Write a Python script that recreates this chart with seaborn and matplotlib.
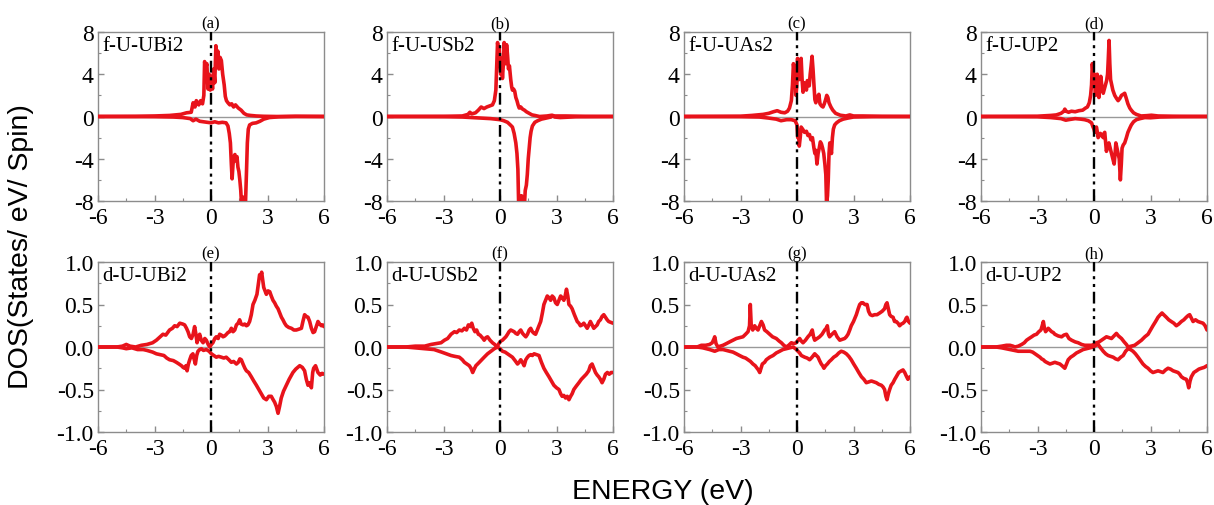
import matplotlib
matplotlib.use("Agg")
import matplotlib.pyplot as plt
import seaborn as sns
import pandas as pd
from matplotlib.ticker import MultipleLocator

# ---- f-states of U (spin up / spin down), (energy eV, DOS) ----
a_up = [(-6, 0), (-4, 0.02), (-3, 0.05), (-2.2, 0.1), (-1.6, 0.2), (-1.3, 0.35), (-1.05, 0.4), (-0.95, 1.3),
        (-0.85, 0.9), (-0.78, 1.5), (-0.65, 1.1), (-0.55, 1.5), (-0.45, 1.2), (-0.38, 2.0), (-0.34, 5.2),
        (-0.28, 4.6), (-0.22, 5.0), (-0.16, 2.6), (-0.1, 4.0), (-0.04, 2.5), (0.02, 3.8), (0.08, 2.6),
        (0.14, 4.5), (0.2, 3.2), (0.26, 6.7), (0.3, 4.8), (0.36, 6.2), (0.42, 4.5), (0.48, 5.6), (0.55, 5.3),
        (0.62, 4.0), (0.7, 3.0), (0.76, 1.9), (0.82, 1.5), (0.9, 1.3), (1.0, 1.1), (1.1, 1.2), (1.2, 0.9),
        (1.3, 1.1), (1.45, 0.8), (1.6, 0.6), (1.75, 0.3), (1.9, 0.15), (2.1, 0.1), (2.4, 0.05), (2.8, 0.02),
        (3.5, 0.0), (4.5, 0.02), (6, 0)]
a_dn = [(-6, 0), (-3, -0.02), (-2, -0.05), (-1.5, -0.1), (-1.1, -0.2), (-0.95, -0.4), (-0.8, -0.25),
        (-0.6, -0.45), (-0.4, -0.5), (-0.2, -0.55), (0.0, -0.6), (0.2, -0.5), (0.4, -0.6), (0.6, -0.55),
        (0.8, -0.6), (0.9, -0.9), (0.97, -1.6), (1.03, -2.5), (1.08, -4.5), (1.12, -5.9), (1.17, -4.5),
        (1.22, -3.8), (1.27, -3.6), (1.32, -4.2), (1.38, -3.8), (1.43, -4.8), (1.48, -5.2), (1.53, -6.0),
        (1.58, -7.0), (1.62, -8.3), (1.67, -7.6), (1.72, -8.3), (1.78, -7.8), (1.83, -8.3), (1.88, -5.5),
        (1.93, -2.5), (1.98, -1.2), (2.05, -0.8), (2.2, -0.65), (2.4, -0.6), (2.6, -0.45), (2.8, -0.25),
        (3.1, -0.1), (3.6, -0.03), (4.5, 0), (6, 0)]

b_up = [(-6, 0), (-3, 0.02), (-2, 0.05), (-1.7, 0.2), (-1.6, 0.4), (-1.5, 0.25), (-1.3, 0.35), (-1.15, 0.6),
        (-1.0, 0.9), (-0.85, 0.75), (-0.7, 0.9), (-0.55, 1.0), (-0.4, 1.1), (-0.3, 1.5), (-0.22, 2.5),
        (-0.17, 5.0), (-0.13, 7.0), (-0.08, 6.2), (-0.04, 6.6), (0.0, 5.0), (0.04, 4.0), (0.08, 5.5),
        (0.13, 3.6), (0.18, 5.0), (0.22, 7.0), (0.26, 6.2), (0.3, 5.0), (0.35, 6.8), (0.4, 5.8), (0.45, 4.5),
        (0.5, 4.8), (0.57, 3.5), (0.62, 2.8), (0.66, 2.5), (0.72, 2.6), (0.78, 2.4), (0.84, 1.8), (0.9, 1.5),
        (0.96, 1.1), (1.02, 0.8), (1.1, 0.9), (1.2, 0.7), (1.3, 0.6), (1.4, 0.45), (1.55, 0.3), (1.7, 0.15),
        (1.85, 0.1), (2.1, 0.0), (2.5, 0.05), (2.75, 0.12), (2.9, 0.05), (3.5, 0.05), (4.5, 0.02), (6, 0)]
b_dn = [(-6, 0), (-3, -0.02), (-2, -0.05), (-1.5, -0.1), (-1.0, -0.15), (-0.5, -0.2), (0.0, -0.3),
        (0.2, -0.4), (0.4, -0.55), (0.55, -0.8), (0.66, -1.0), (0.75, -1.6), (0.84, -2.5), (0.9, -3.5),
        (0.95, -5.0), (0.99, -8.3), (1.04, -7.6), (1.09, -8.3), (1.14, -7.5), (1.19, -8.3), (1.24, -7.8),
        (1.3, -8.3), (1.34, -7.0), (1.4, -6.5), (1.45, -5.5), (1.5, -4.0), (1.55, -3.0), (1.6, -2.0),
        (1.65, -1.4), (1.72, -0.9), (1.85, -0.55), (2.0, -0.4), (2.2, -0.25), (2.45, -0.15), (2.7, -0.05),
        (2.8, 0.08), (2.9, -0.05), (3.2, -0.1), (4.0, -0.03), (6, 0)]

c_up = [(-6, 0), (-3, 0.03), (-2.4, 0.1), (-1.8, 0.2), (-1.5, 0.3), (-1.25, 0.45), (-1.05, 0.55),
        (-0.85, 0.4), (-0.65, 0.35), (-0.5, 0.5), (-0.4, 0.8), (-0.3, 1.5), (-0.24, 3.0), (-0.19, 5.0),
        (-0.14, 4.2), (-0.09, 4.8), (-0.05, 2.0), (-0.01, 3.0), (0.03, 5.5), (0.08, 4.0), (0.12, 3.5),
        (0.17, 5.0), (0.22, 5.5), (0.27, 3.5), (0.32, 2.3), (0.38, 3.2), (0.44, 3.0), (0.5, 2.5), (0.55, 3.4),
        (0.6, 3.3), (0.65, 2.9), (0.7, 4.0), (0.75, 4.8), (0.8, 5.7), (0.85, 4.5), (0.9, 3.0), (0.95, 1.6),
        (1.0, 1.3), (1.05, 1.9), (1.1, 1.7), (1.16, 2.1), (1.22, 1.2), (1.3, 1.0), (1.38, 0.9), (1.45, 1.2),
        (1.52, 1.6), (1.58, 2.0), (1.64, 1.8), (1.7, 1.3), (1.8, 0.9), (1.9, 0.6), (2.05, 0.3), (2.3, 0.12),
        (2.6, 0.05), (2.8, 0.15), (3.0, 0.05), (3.5, 0.05), (4.5, 0.02), (6, 0)]
c_dn = [(-6, 0), (-3, -0.02), (-2, -0.05), (-1.5, -0.15), (-1.1, -0.25), (-0.85, -0.4), (-0.7, -0.35),
        (-0.55, -0.3), (-0.3, -0.3), (-0.1, -0.4), (0.0, -0.8), (0.04, -2.0), (0.08, -1.5), (0.12, -2.8),
        (0.17, -2.0), (0.22, -1.0), (0.3, -1.2), (0.4, -1.5), (0.5, -1.4), (0.58, -1.8), (0.66, -1.7),
        (0.74, -2.2), (0.82, -2.0), (0.9, -3.0), (0.95, -3.5), (1.0, -3.2), (1.06, -4.5), (1.12, -3.5),
        (1.18, -3.0), (1.24, -2.4), (1.3, -2.6), (1.36, -3.0), (1.42, -3.5), (1.48, -4.5), (1.53, -5.5),
        (1.57, -8.3), (1.62, -7.5), (1.66, -6.0), (1.7, -3.5), (1.74, -2.5), (1.79, -3.0), (1.83, -3.5),
        (1.88, -2.0), (1.93, -1.2), (2.0, -0.8), (2.1, -0.6), (2.25, -0.4), (2.45, -0.25), (2.7, -0.15),
        (3.0, -0.05), (4.0, -0.02), (6, 0)]

d_up = [(-6, 0), (-3, 0.03), (-2.3, 0.1), (-2.0, 0.15), (-1.75, 0.3), (-1.6, 0.5), (-1.55, 0.7),
        (-1.48, 0.5), (-1.35, 0.4), (-1.2, 0.5), (-1.0, 0.45), (-0.8, 0.55), (-0.6, 0.6), (-0.45, 0.8),
        (-0.35, 0.9), (-0.25, 1.3), (-0.18, 2.0), (-0.13, 3.0), (-0.09, 5.0), (-0.05, 4.2), (0.0, 4.0),
        (0.04, 3.0), (0.08, 2.0), (0.12, 3.5), (0.17, 4.0), (0.22, 2.5), (0.26, 1.8), (0.31, 3.0),
        (0.36, 3.8), (0.42, 2.8), (0.49, 2.2), (0.55, 2.6), (0.61, 3.0), (0.67, 3.4), (0.72, 4.0), (0.76, 5.5),
        (0.8, 7.2), (0.84, 5.0), (0.88, 3.5), (0.94, 3.0), (1.0, 2.5), (1.1, 2.0), (1.2, 1.7), (1.28, 1.5),
        (1.37, 1.7), (1.46, 2.0), (1.55, 2.1), (1.63, 2.2), (1.7, 1.8), (1.8, 1.2), (1.9, 0.8), (1.98, 0.6),
        (2.1, 0.35), (2.25, 0.2), (2.5, 0.05), (2.8, 0.08), (3.05, 0.12), (3.4, 0.05), (4.5, 0.02), (6, 0)]
d_dn = [(-6, 0), (-3, -0.03), (-2.3, -0.1), (-1.75, -0.2), (-1.5, -0.35), (-1.35, -0.3), (-1.0, -0.2),
        (-0.7, -0.25), (-0.5, -0.3), (-0.3, -0.4), (-0.13, -0.6), (-0.05, -1.0), (0.0, -1.2), (0.04, -1.5),
        (0.09, -1.2), (0.13, -1.0), (0.18, -1.5), (0.22, -2.0), (0.28, -1.8), (0.34, -1.6), (0.41, -1.8),
        (0.49, -2.0), (0.53, -1.6), (0.57, -1.5), (0.62, -2.5), (0.66, -3.3), (0.72, -2.8), (0.79, -2.5),
        (0.86, -3.0), (0.93, -3.5), (1.0, -4.0), (1.07, -4.5), (1.12, -3.5), (1.16, -2.5), (1.22, -3.0),
        (1.28, -3.5), (1.34, -4.0), (1.4, -6.0), (1.45, -4.5), (1.49, -3.0), (1.55, -2.7), (1.63, -2.5),
        (1.72, -2.0), (1.8, -1.5), (1.9, -1.1), (1.98, -0.8), (2.1, -0.5), (2.25, -0.3), (2.45, -0.2),
        (2.7, -0.1), (3.0, -0.12), (3.5, -0.05), (4.5, -0.02), (6, 0)]

# ---- d-states of U ----
e_up = [(-6, 0), (-5, 0.0), (-4.7, 0.01), (-4.5, 0.03), (-4.3, 0.01), (-4.0, 0.0), (-3.7, 0.02), (-3.4, 0.03),
        (-3.1, 0.05), (-2.9, 0.08), (-2.7, 0.12), (-2.55, 0.15), (-2.4, 0.14), (-2.2, 0.2), (-2.05, 0.22),
        (-1.93, 0.25), (-1.8, 0.24), (-1.66, 0.28), (-1.5, 0.27), (-1.4, 0.26), (-1.3, 0.22), (-1.22, 0.18),
        (-1.13, 0.12), (-1.04, 0.1), (-0.95, 0.15), (-0.87, 0.24), (-0.8, 0.15), (-0.74, 0.05), (-0.67, 0.12),
        (-0.6, 0.15), (-0.52, 0.08), (-0.42, 0.05), (-0.33, 0.1), (-0.25, 0.08), (-0.15, 0.03), (-0.07, 0.0),
        (0.02, 0.03), (0.1, 0.05), (0.2, 0.1), (0.28, 0.12), (0.38, 0.1), (0.46, 0.15), (0.55, 0.14),
        (0.64, 0.12), (0.73, 0.13), (0.82, 0.15), (0.9, 0.17), (0.99, 0.18), (1.08, 0.22), (1.17, 0.18),
        (1.26, 0.2), (1.35, 0.26), (1.44, 0.28), (1.52, 0.32), (1.6, 0.27), (1.7, 0.26), (1.79, 0.27),
        (1.88, 0.25), (1.96, 0.26), (2.05, 0.3), (2.14, 0.38), (2.23, 0.5), (2.33, 0.55), (2.44, 0.62),
        (2.52, 0.75), (2.58, 0.85), (2.64, 0.83), (2.69, 0.88), (2.75, 0.78), (2.8, 0.7), (2.87, 0.66),
        (2.94, 0.62), (3.03, 0.66), (3.12, 0.65), (3.2, 0.6), (3.29, 0.55), (3.38, 0.52), (3.47, 0.48),
        (3.56, 0.45), (3.65, 0.4), (3.74, 0.35), (3.82, 0.32), (3.91, 0.28), (4.0, 0.25), (4.13, 0.23),
        (4.27, 0.22), (4.4, 0.2), (4.53, 0.2), (4.67, 0.21), (4.8, 0.22), (4.88, 0.3), (4.97, 0.38),
        (5.06, 0.36), (5.15, 0.35), (5.24, 0.3), (5.33, 0.22), (5.42, 0.17), (5.5, 0.18), (5.59, 0.24),
        (5.68, 0.3), (5.77, 0.27), (5.86, 0.25), (5.93, 0.26), (6.0, 0.24)]
e_dn = [(-6, 0), (-5, 0), (-4.7, -0.01), (-4.5, -0.02), (-4.2, -0.01), (-3.9, -0.03), (-3.6, -0.03),
        (-3.4, -0.04), (-3.1, -0.06), (-2.9, -0.08), (-2.7, -0.09), (-2.5, -0.1), (-2.35, -0.13), (-2.2, -0.15),
        (-2.0, -0.16), (-1.84, -0.18), (-1.7, -0.2), (-1.57, -0.22), (-1.48, -0.24), (-1.4, -0.25),
        (-1.33, -0.22), (-1.27, -0.28), (-1.2, -0.2), (-1.13, -0.15), (-1.05, -0.1), (-0.96, -0.08),
        (-0.9, -0.14), (-0.83, -0.2), (-0.76, -0.1), (-0.69, -0.05), (-0.6, -0.03), (-0.51, -0.02),
        (-0.4, -0.04), (-0.25, -0.03), (-0.1, -0.05), (0.02, -0.08), (0.15, -0.1), (0.28, -0.12), (0.4, -0.11),
        (0.55, -0.12), (0.68, -0.13), (0.81, -0.12), (0.95, -0.15), (1.08, -0.18), (1.2, -0.17), (1.35, -0.2),
        (1.45, -0.18), (1.53, -0.14), (1.61, -0.15), (1.7, -0.2), (1.8, -0.25), (1.88, -0.28), (2.0, -0.3),
        (2.14, -0.35), (2.27, -0.4), (2.41, -0.45), (2.54, -0.5), (2.67, -0.55), (2.8, -0.6), (2.94, -0.62),
        (3.07, -0.58), (3.2, -0.58), (3.3, -0.62), (3.38, -0.65), (3.47, -0.7), (3.56, -0.78), (3.64, -0.7),
        (3.73, -0.6), (3.85, -0.52), (4.0, -0.45), (4.15, -0.38), (4.35, -0.3), (4.5, -0.26), (4.71, -0.22),
        (4.85, -0.24), (4.97, -0.28), (5.06, -0.38), (5.15, -0.45), (5.24, -0.42), (5.33, -0.48), (5.4, -0.3),
        (5.45, -0.25), (5.55, -0.22), (5.68, -0.3), (5.8, -0.33), (5.9, -0.31), (6.0, -0.32)]

f_up = [(-6, 0), (-5, 0), (-4.5, 0.01), (-4.0, 0.01), (-3.66, 0.03), (-3.4, 0.04), (-3.13, 0.05), (-2.95, 0.08),
        (-2.78, 0.1), (-2.6, 0.15), (-2.42, 0.18), (-2.3, 0.17), (-2.16, 0.2), (-2.02, 0.19), (-1.89, 0.22),
        (-1.78, 0.2), (-1.68, 0.26), (-1.58, 0.24), (-1.5, 0.28), (-1.42, 0.22), (-1.33, 0.18), (-1.24, 0.2),
        (-1.15, 0.15), (-1.06, 0.14), (-0.98, 0.12), (-0.9, 0.1), (-0.84, 0.08), (-0.75, 0.11), (-0.66, 0.12),
        (-0.53, 0.08), (-0.4, 0.05), (-0.28, 0.03), (-0.17, 0.0), (-0.06, 0.04), (0.04, 0.07), (0.13, 0.08),
        (0.22, 0.1), (0.31, 0.12), (0.4, 0.15), (0.48, 0.18), (0.57, 0.2), (0.66, 0.19), (0.75, 0.18),
        (0.84, 0.16), (0.93, 0.15), (1.02, 0.18), (1.1, 0.2), (1.2, 0.16), (1.28, 0.14), (1.37, 0.12),
        (1.46, 0.15), (1.55, 0.2), (1.63, 0.22), (1.72, 0.18), (1.81, 0.16), (1.89, 0.15), (1.98, 0.2),
        (2.07, 0.25), (2.16, 0.3), (2.25, 0.4), (2.33, 0.5), (2.42, 0.55), (2.51, 0.6), (2.6, 0.58),
        (2.69, 0.55), (2.77, 0.6), (2.86, 0.58), (2.95, 0.52), (3.04, 0.5), (3.13, 0.55), (3.22, 0.6),
        (3.3, 0.58), (3.39, 0.55), (3.46, 0.6), (3.53, 0.68), (3.6, 0.6), (3.66, 0.5), (3.75, 0.48),
        (3.83, 0.45), (3.95, 0.38), (4.1, 0.3), (4.19, 0.28), (4.27, 0.25), (4.36, 0.26), (4.45, 0.28),
        (4.54, 0.25), (4.63, 0.22), (4.72, 0.26), (4.8, 0.3), (4.89, 0.26), (4.98, 0.22), (5.07, 0.24),
        (5.16, 0.26), (5.24, 0.3), (5.33, 0.32), (5.42, 0.36), (5.51, 0.38), (5.6, 0.35), (5.69, 0.32),
        (5.77, 0.3), (5.88, 0.29), (6.0, 0.28)]
f_dn = [(-6, 0), (-5, 0), (-4.5, -0.01), (-4.0, -0.02), (-3.5, -0.03), (-3.1, -0.06), (-2.85, -0.08),
        (-2.6, -0.1), (-2.4, -0.11), (-2.16, -0.12), (-2.0, -0.15), (-1.89, -0.18), (-1.76, -0.2),
        (-1.63, -0.22), (-1.54, -0.25), (-1.45, -0.3), (-1.37, -0.26), (-1.28, -0.22), (-1.19, -0.2),
        (-1.1, -0.18), (-0.97, -0.15), (-0.84, -0.12), (-0.66, -0.08), (-0.48, -0.05), (-0.3, -0.02),
        (-0.13, 0.0), (0.0, -0.02), (0.13, -0.05), (0.27, -0.06), (0.4, -0.08), (0.53, -0.1), (0.66, -0.12),
        (0.8, -0.16), (0.93, -0.2), (1.02, -0.18), (1.1, -0.15), (1.19, -0.18), (1.28, -0.22), (1.37, -0.15),
        (1.46, -0.12), (1.54, -0.1), (1.63, -0.09), (1.72, -0.1), (1.81, -0.08), (1.94, -0.09), (2.07, -0.1),
        (2.2, -0.18), (2.33, -0.25), (2.46, -0.3), (2.6, -0.35), (2.73, -0.4), (2.86, -0.45), (3.0, -0.48),
        (3.13, -0.5), (3.22, -0.55), (3.3, -0.58), (3.39, -0.57), (3.48, -0.6), (3.57, -0.58), (3.66, -0.62),
        (3.75, -0.58), (3.83, -0.55), (3.92, -0.5), (4.05, -0.46), (4.19, -0.42), (4.32, -0.38),
        (4.45, -0.35), (4.58, -0.32), (4.71, -0.28), (4.8, -0.22), (4.89, -0.2), (4.98, -0.25), (5.07, -0.3),
        (5.16, -0.33), (5.24, -0.35), (5.33, -0.38), (5.42, -0.42), (5.51, -0.38), (5.6, -0.32), (5.7, -0.3),
        (5.8, -0.32), (5.9, -0.3), (6.0, -0.3)]

g_up = [(-6, 0), (-5.3, 0.0), (-5.08, 0.02), (-4.85, 0.02), (-4.64, 0.03), (-4.5, 0.05), (-4.4, 0.1),
        (-4.37, 0.12), (-4.3, 0.04), (-4.2, 0.0), (-4.07, 0.01), (-3.93, 0.02), (-3.75, 0.04), (-3.58, 0.06),
        (-3.4, 0.08), (-3.22, 0.1), (-3.05, 0.11), (-2.87, 0.12), (-2.73, 0.15), (-2.6, 0.18), (-2.52, 0.25),
        (-2.48, 0.5), (-2.43, 0.25), (-2.35, 0.2), (-2.25, 0.25), (-2.16, 0.22), (-2.07, 0.2), (-1.98, 0.25),
        (-1.89, 0.3), (-1.8, 0.26), (-1.72, 0.2), (-1.6, 0.18), (-1.45, 0.15), (-1.3, 0.12), (-1.1, 0.1),
        (-0.95, 0.07), (-0.83, 0.05), (-0.7, 0.02), (-0.57, 0.0), (-0.44, 0.02), (-0.3, 0.05), (-0.17, 0.04),
        (-0.04, 0.05), (0.05, 0.08), (0.14, 0.1), (0.23, 0.07), (0.32, 0.05), (0.45, 0.08), (0.58, 0.12),
        (0.7, 0.15), (0.81, 0.2), (0.88, 0.12), (0.94, 0.08), (1.07, 0.1), (1.2, 0.12), (1.33, 0.15),
        (1.47, 0.2), (1.55, 0.22), (1.61, 0.25), (1.67, 0.15), (1.73, 0.12), (1.86, 0.15), (2.0, 0.18),
        (2.13, 0.12), (2.27, 0.08), (2.4, 0.09), (2.53, 0.1), (2.62, 0.12), (2.71, 0.15), (2.8, 0.2),
        (2.88, 0.25), (3.0, 0.3), (3.15, 0.38), (3.25, 0.45), (3.33, 0.5), (3.42, 0.52), (3.5, 0.52),
        (3.6, 0.5), (3.72, 0.5), (3.8, 0.42), (3.89, 0.38), (4.0, 0.37), (4.12, 0.38), (4.25, 0.38),
        (4.39, 0.4), (4.52, 0.42), (4.65, 0.45), (4.72, 0.5), (4.78, 0.52), (4.85, 0.45), (4.92, 0.38),
        (5.0, 0.36), (5.1, 0.35), (5.18, 0.3), (5.27, 0.3), (5.36, 0.28), (5.45, 0.25), (5.54, 0.27),
        (5.63, 0.28), (5.72, 0.3), (5.8, 0.34), (5.84, 0.35), (5.92, 0.3), (6.0, 0.28)]
g_dn = [(-6, 0), (-5.3, 0.0), (-5.0, -0.01), (-4.64, -0.03), (-4.5, -0.04), (-4.37, -0.05), (-4.15, -0.03),
        (-3.93, -0.03), (-3.75, -0.04), (-3.58, -0.05), (-3.4, -0.06), (-3.22, -0.08), (-3.05, -0.1),
        (-2.87, -0.12), (-2.73, -0.13), (-2.6, -0.15), (-2.47, -0.17), (-2.34, -0.2), (-2.22, -0.22),
        (-2.12, -0.25), (-2.05, -0.27), (-1.98, -0.3), (-1.91, -0.25), (-1.84, -0.2), (-1.72, -0.18),
        (-1.63, -0.15), (-1.45, -0.12), (-1.27, -0.1), (-1.1, -0.07), (-0.92, -0.05), (-0.75, -0.03),
        (-0.57, -0.02), (-0.39, -0.01), (-0.21, 0.0), (-0.08, -0.02), (0.05, -0.05), (0.14, -0.07),
        (0.23, -0.1), (0.32, -0.11), (0.41, -0.12), (0.54, -0.13), (0.67, -0.15), (0.8, -0.12), (0.94, -0.08),
        (1.03, -0.1), (1.12, -0.12), (1.2, -0.16), (1.29, -0.2), (1.36, -0.22), (1.43, -0.25), (1.52, -0.22),
        (1.61, -0.2), (1.72, -0.17), (1.82, -0.15), (1.95, -0.12), (2.09, -0.1), (2.22, -0.07), (2.35, -0.05),
        (2.48, -0.06), (2.62, -0.08), (2.75, -0.11), (2.88, -0.15), (3.01, -0.2), (3.15, -0.25), (3.28, -0.3),
        (3.42, -0.35), (3.55, -0.38), (3.68, -0.42), (3.82, -0.41), (3.95, -0.4), (4.08, -0.41),
        (4.21, -0.42), (4.35, -0.44), (4.48, -0.45), (4.57, -0.47), (4.65, -0.5), (4.72, -0.58), (4.78, -0.62),
        (4.85, -0.55), (4.92, -0.5), (5.0, -0.45), (5.1, -0.42), (5.19, -0.38), (5.27, -0.35), (5.4, -0.3),
        (5.54, -0.28), (5.63, -0.27), (5.72, -0.3), (5.8, -0.34), (5.89, -0.38), (5.95, -0.36), (6.0, -0.35)]

h_up = [(-6, 0), (-5.2, 0.0), (-4.9, 0.01), (-4.65, 0.02), (-4.46, 0.02), (-4.3, 0.01), (-4.2, 0.0),
        (-4.02, 0.01), (-3.84, 0.03), (-3.7, 0.05), (-3.58, 0.08), (-3.45, 0.1), (-3.31, 0.12), (-3.18, 0.14),
        (-3.05, 0.15), (-2.93, 0.18), (-2.82, 0.2), (-2.75, 0.25), (-2.69, 0.3), (-2.63, 0.22), (-2.57, 0.18),
        (-2.5, 0.2), (-2.43, 0.22), (-2.34, 0.2), (-2.25, 0.18), (-2.16, 0.17), (-2.08, 0.15), (-1.9, 0.13),
        (-1.72, 0.12), (-1.6, 0.14), (-1.46, 0.15), (-1.33, 0.1), (-1.19, 0.08), (-1.0, 0.06), (-0.84, 0.05),
        (-0.66, 0.03), (-0.49, 0.02), (-0.31, 0.02), (-0.13, 0.02), (0.0, 0.03), (0.13, 0.05), (0.27, 0.06),
        (0.4, 0.08), (0.53, 0.1), (0.66, 0.12), (0.8, 0.11), (0.93, 0.1), (1.06, 0.13), (1.19, 0.16),
        (1.3, 0.13), (1.46, 0.1), (1.6, 0.06), (1.72, 0.03), (1.81, 0.0), (1.98, 0.01), (2.16, 0.02),
        (2.34, 0.05), (2.52, 0.08), (2.7, 0.12), (2.87, 0.15), (3.0, 0.2), (3.13, 0.25), (3.27, 0.3),
        (3.4, 0.35), (3.52, 0.38), (3.61, 0.4), (3.7, 0.38), (3.84, 0.35), (3.97, 0.32), (4.1, 0.3),
        (4.24, 0.28), (4.37, 0.25), (4.5, 0.27), (4.64, 0.3), (4.77, 0.32), (4.9, 0.35), (5.0, 0.37),
        (5.08, 0.38), (5.17, 0.34), (5.26, 0.3), (5.39, 0.32), (5.52, 0.3), (5.65, 0.29), (5.79, 0.28),
        (5.9, 0.25), (6.0, 0.2)]
h_dn = [(-6, 0), (-5.2, 0.0), (-4.9, -0.01), (-4.46, -0.03), (-4.02, -0.05), (-3.66, -0.05), (-3.4, -0.05),
        (-3.26, -0.06), (-3.13, -0.08), (-3.0, -0.1), (-2.87, -0.12), (-2.78, -0.14), (-2.69, -0.15),
        (-2.6, -0.17), (-2.52, -0.18), (-2.43, -0.19), (-2.34, -0.2), (-2.2, -0.19), (-2.08, -0.18),
        (-1.95, -0.19), (-1.81, -0.2), (-1.7, -0.22), (-1.6, -0.24), (-1.55, -0.25), (-1.46, -0.2),
        (-1.37, -0.15), (-1.24, -0.12), (-1.1, -0.1), (-0.93, -0.07), (-0.75, -0.05), (-0.58, -0.03),
        (-0.4, -0.02), (-0.22, -0.01), (-0.04, 0.0), (0.1, 0.02), (0.22, 0.03), (0.35, -0.01), (0.49, -0.05),
        (0.62, -0.08), (0.75, -0.1), (0.88, -0.11), (1.02, -0.12), (1.15, -0.14), (1.28, -0.15), (1.42, -0.12),
        (1.55, -0.1), (1.68, -0.05), (1.81, -0.02), (1.94, -0.03), (2.07, -0.05), (2.2, -0.08), (2.34, -0.12),
        (2.47, -0.16), (2.6, -0.2), (2.74, -0.23), (2.87, -0.25), (3.0, -0.28), (3.13, -0.3), (3.27, -0.29),
        (3.4, -0.28), (3.53, -0.29), (3.66, -0.3), (3.8, -0.27), (3.93, -0.25), (4.06, -0.26), (4.2, -0.28),
        (4.33, -0.29), (4.46, -0.3), (4.55, -0.32), (4.64, -0.35), (4.77, -0.37), (4.9, -0.38), (4.97, -0.42),
        (5.03, -0.48), (5.1, -0.4), (5.17, -0.35), (5.3, -0.3), (5.44, -0.28), (5.57, -0.26), (5.7, -0.25),
        (5.85, -0.24), (6.0, -0.22)]

panel_tags = ["(a)", "(b)", "(c)", "(d)", "(e)", "(f)", "(g)", "(h)"]
panel_names = ["f-U-UBi2", "f-U-USb2", "f-U-UAs2", "f-U-UP2",
               "d-U-UBi2", "d-U-USb2", "d-U-UAs2", "d-U-UP2"]
series = [(a_up, a_dn), (b_up, b_dn), (c_up, c_dn), (d_up, d_dn),
          (e_up, e_dn), (f_up, f_dn), (g_up, g_dn), (h_up, h_dn)]
x_ticks = [-6, -3, 0, 3, 6]
f_ticks = [-8, -4, 0, 4, 8]
d_ticks = [-1.0, -0.5, 0.0, 0.5, 1.0]

sns.set_theme(style="white")
plt.rcParams["font.family"] = ["Liberation Serif", "DejaVu Serif"]
plt.rcParams["axes.unicode_minus"] = False
plt.rcParams["text.color"] = "black"

RED = "#e8131b"
GREY = "#8c8c8c"

fig = plt.figure(figsize=(12.14, 5.06), dpi=100)
W, H = 1214, 506
lefts = [98, 387, 684, 981]
ax_w = 226
rows = [(33, 202), (263, 433)]

for i, (up, dn) in enumerate(series):
    r, c = divmod(i, 4)
    top, bot = rows[r]
    ax = fig.add_axes([lefts[c] / W, 1 - bot / H, ax_w / W, (bot - top) / H])
    df_up = pd.DataFrame(up, columns=["E", "DOS"])
    df_dn = pd.DataFrame(dn, columns=["E", "DOS"])
    ax.axhline(0, color="#999999", lw=1.0, zorder=1)
    for df in (df_up, df_dn):
        sns.lineplot(data=df, x="E", y="DOS", ax=ax, color=RED, lw=2.6,
                     estimator=None, sort=False, zorder=3)
    ax.axvline(0, color="black", lw=1.7, dashes=(5, 2, 1.3, 2, 1.3, 2), zorder=4)
    ax.set_xlim(-6, 6)
    if r == 0:
        ax.set_ylim(-8, 8)
        ax.set_yticks(f_ticks)
        ax.set_yticklabels([str(t) for t in f_ticks])
        ax.yaxis.set_minor_locator(MultipleLocator(2))
    else:
        ax.set_ylim(-1, 1)
        ax.set_yticks(d_ticks)
        ax.set_yticklabels([f"{t:.1f}" for t in d_ticks])
        ax.yaxis.set_minor_locator(MultipleLocator(0.25))
    ax.set_xticks(x_ticks)
    ax.set_xticklabels([str(t) for t in x_ticks])
    ax.xaxis.set_minor_locator(MultipleLocator(1.5))
    ax.set_xlabel("")
    ax.set_ylabel("")
    for s in ax.spines.values():
        s.set_color(GREY)
        s.set_linewidth(1.0)
    ax.tick_params(which="both", direction="in", color=GREY, top=False, right=False,
                   bottom=True, left=True)
    ax.tick_params(which="major", length=4, width=1.0, labelsize=17, labelcolor="black")
    ax.tick_params(axis="x", which="major", pad=4)
    ax.tick_params(axis="y", which="major", pad=3)
    ax.tick_params(which="minor", length=2.5, width=0.8)
    ax.text(0.02, 0.975, panel_names[i], transform=ax.transAxes, ha="left", va="top",
            fontsize=15, color="black")
    ax.text(0.5, 1.005, panel_tags[i], transform=ax.transAxes, ha="center", va="bottom",
            fontsize=12, color="black")

fig.text(663 / W, 1 - 492 / H, "ENERGY (eV)", ha="center", va="center",
         fontsize=20.5, family="Liberation Sans")
fig.text(21 / W, 1 - 247 / H, "DOS(States/ eV/ Spin)", ha="center", va="center",
         rotation=90, fontsize=20.5, family="Liberation Sans")

fig.savefig("out.png", dpi=100, facecolor="white")
